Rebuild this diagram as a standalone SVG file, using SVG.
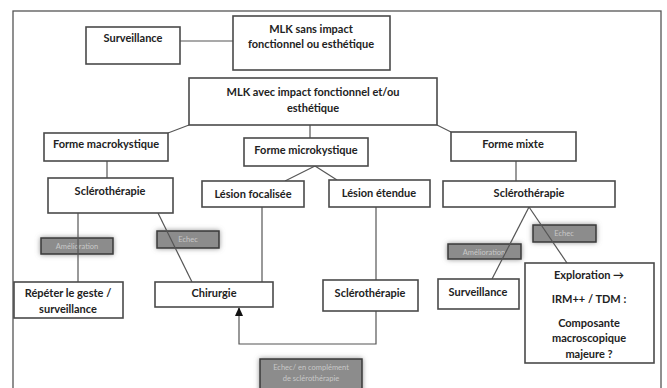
<svg xmlns="http://www.w3.org/2000/svg" width="667" height="388" viewBox="0 0 667 388">
<defs>
<style>
.box{fill:#fff;stroke:#4a4a4a;stroke-width:1.6}
.t{font-family:Lato,"Open Sans","Liberation Sans",sans-serif;font-weight:bold;font-size:11px;fill:#222;text-anchor:middle}
.ln{stroke:#555;stroke-width:1.2;fill:none}
.badge{fill:#8c8c8c;stroke:#3a3a3a;stroke-width:1.5}
.bt{font-family:Lato,"Open Sans","Liberation Sans",sans-serif;font-size:7.5px;fill:#c8c8c8;text-anchor:middle}
</style>
<filter id="glow" x="-30%" y="-60%" width="160%" height="220%">
<feGaussianBlur in="SourceAlpha" stdDeviation="2.5" result="b"/>
<feFlood flood-color="#777" flood-opacity="0.8"/>
<feComposite in2="b" operator="in" result="g"/>
<feMerge><feMergeNode in="g"/><feMergeNode in="SourceGraphic"/></feMerge>
</filter>
<marker id="arr" markerWidth="9" markerHeight="8" refX="8" refY="4" orient="auto" markerUnits="userSpaceOnUse">
<path d="M0,0 L9,4 L0,8 Z" fill="#111"/>
</marker>
</defs>
<rect x="0" y="0" width="667" height="388" fill="#fff"/>
<rect x="13" y="11" width="648" height="390" fill="none" stroke="#555" stroke-width="1.3"/>

<g id="badges">
<g id="b-amelio-left"><rect class="badge" x="41" y="238" width="72" height="16" filter="url(#glow)"/><text class="bt" x="77" y="249">Amélioration</text></g>
<g id="b-echec-left"><rect class="badge" x="157" y="231" width="62" height="17" filter="url(#glow)"/><text class="bt" x="188" y="242">Echec</text></g>
<g id="b-amelio-right"><rect class="badge" x="448" y="244" width="73" height="15" filter="url(#glow)"/><text class="bt" x="484" y="255">Amélioration</text></g>
<g id="b-echec-right"><rect class="badge" x="533" y="225" width="63" height="17" filter="url(#glow)"/><text class="bt" x="564" y="236">Echec</text></g>
<g id="b-echec-compl"><rect class="badge" x="260" y="359" width="102" height="40" filter="url(#glow)"/><text class="bt" x="311" y="370">Echec/ en complément</text><text class="bt" x="311" y="381">de sclérothérapie</text></g>
</g>

<g id="connectors">
<line class="ln" x1="180" y1="41" x2="233" y2="41"/>
<line class="ln" x1="189" y1="125" x2="168" y2="133"/>
<line class="ln" x1="310" y1="125" x2="310" y2="138"/>
<line class="ln" x1="437" y1="125" x2="451" y2="132"/>
<line class="ln" x1="107" y1="161" x2="107" y2="178"/>
<line class="ln" x1="315" y1="166" x2="285" y2="181"/>
<line class="ln" x1="315" y1="166" x2="337" y2="180"/>
<line class="ln" x1="516" y1="161" x2="516" y2="181"/>
<line class="ln" x1="78" y1="213" x2="78" y2="282"/>
<line class="ln" x1="158" y1="213" x2="192" y2="282"/>
<line class="ln" x1="262" y1="207" x2="262" y2="282"/>
<line class="ln" x1="376" y1="207" x2="376" y2="280"/>
<line class="ln" x1="529" y1="207" x2="492" y2="279"/>
<line class="ln" x1="529" y1="207" x2="567" y2="263"/>
<polyline class="ln" points="376,311 376,344 239,344 239,308" marker-end="url(#arr)"/>
</g>

<g id="n-surv-top"><rect class="box" x="86" y="27" width="94" height="37"/><text class="t" x="133" y="42">Surveillance</text></g>
<g id="n-mlk-sans"><rect class="box" x="233" y="16" width="157" height="54"/><text class="t" x="311" y="33">MLK sans impact</text><text class="t" x="311" y="48">fonctionnel ou esthétique</text></g>
<g id="n-mlk-avec"><rect class="box" x="189" y="78" width="248" height="47"/><text class="t" x="313" y="96">MLK avec impact fonctionnel et/ou</text><text class="t" x="313" y="112">esthétique</text></g>
<g id="n-macro"><rect class="box" x="44" y="133" width="124" height="28"/><text class="t" x="106" y="148">Forme macrokystique</text></g>
<g id="n-micro"><rect class="box" x="244" y="138" width="124" height="28"/><text class="t" x="306" y="154">Forme microkystique</text></g>
<g id="n-mixte"><rect class="box" x="451" y="132" width="125" height="29"/><text class="t" x="513" y="148">Forme mixte</text></g>
<g id="n-sclero-left"><rect class="box" x="48" y="178" width="125" height="35"/><text class="t" x="110" y="195">Sclérothérapie</text></g>
<g id="n-focal"><rect class="box" x="202" y="181" width="102" height="26"/><text class="t" x="253" y="198">Lésion focalisée</text></g>
<g id="n-etendue"><rect class="box" x="329" y="180" width="101" height="27"/><text class="t" x="379" y="197">Lésion étendue</text></g>
<g id="n-sclero-right"><rect class="box" x="443" y="181" width="172" height="26"/><text class="t" x="529" y="197">Sclérothérapie</text></g>
<g id="n-repeter"><rect class="box" x="14" y="282" width="109" height="36"/><text class="t" x="68" y="297">Répéter le geste /</text><text class="t" x="68" y="313">surveillance</text></g>
<g id="n-chirurgie"><rect class="box" x="155" y="282" width="118" height="25"/><text class="t" x="214" y="297">Chirurgie</text></g>
<g id="n-sclero-mid"><rect class="box" x="323" y="280" width="95" height="31"/><text class="t" x="370" y="297">Sclérothérapie</text></g>
<g id="n-surv-bottom"><rect class="box" x="438" y="279" width="81" height="30"/><text class="t" x="478" y="296">Surveillance</text></g>
<g id="n-exploration"><rect class="box" x="525" y="263" width="129" height="100"/><text class="t" x="589" y="279">Exploration →</text><text class="t" x="589" y="303">IRM++ / TDM :</text><text class="t" x="589" y="327">Composante</text><text class="t" x="589" y="342">macroscopique</text><text class="t" x="589" y="358">majeure ?</text></g>
</svg>
